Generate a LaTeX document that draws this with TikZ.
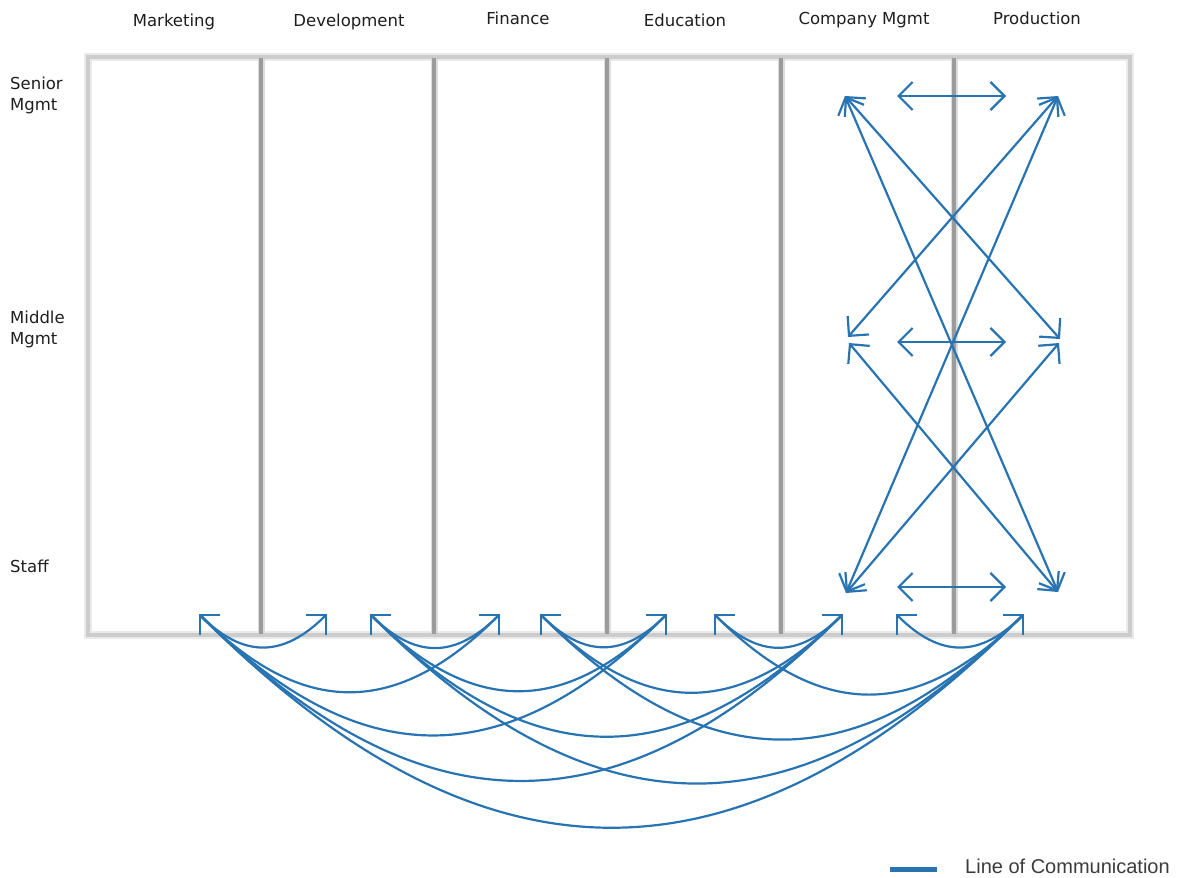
\documentclass[tikz,border=0pt]{standalone}
\usepackage{fontspec}
\setmainfont{DejaVu Sans}
\newfontfamily\legendfont{Liberation Sans}
\usetikzlibrary{arrows.meta}
\definecolor{commblue}{RGB}{40,116,178}
\definecolor{framegray}{RGB}{204,204,204}
\definecolor{framesoft}{RGB}{234,234,234}
\definecolor{divgray}{RGB}{155,155,155}
\definecolor{divsoft}{RGB}{220,220,220}
\definecolor{labelgray}{RGB}{30,30,30}
\definecolor{legendgray}{RGB}{60,60,60}
\begin{document}
\begin{tikzpicture}[x=1pt,y=-1pt,
  >={Straight Barb[length=14pt,width=28pt]},
  colhead/.style={font=\fontsize{16.5}{20}\selectfont, text=labelgray, inner sep=0pt, anchor=base},
  rowhead/.style={font=\fontsize{16.5}{20.5}\selectfont, text=labelgray, inner sep=0pt, align=left, anchor=north west},
  comm/.style={draw=commblue, line width=2.2pt, <->},
  stafflink/.style={comm, out=-45, in=-135, looseness=1.25},
  framehalo/.style={draw=framesoft, line width=8pt},
  frameline/.style={draw=framegray, line width=4.5pt},
  divhalo/.style={draw=divsoft, line width=7pt},
  divline/.style={draw=divgray, line width=3.5pt},
  legendbar/.style={draw=commblue, line width=5pt}]
\useasboundingbox (0,0) rectangle (1184,878);

% grid of departments
\draw[framehalo] (88,57) rectangle (1130,635);
\foreach \x in {261,434,607,781,954}{\draw[divhalo] (\x,57) -- (\x,635);}
\draw[frameline] (88,57) rectangle (1130,635);
\foreach \x in {261,434,607,781,954}{\draw[divline] (\x,58) -- (\x,634);}

% column headings
\node[colhead] (mkt) at (174,26) {Marketing};
\node[colhead] (dev) at (349,26) {Development};
\node[colhead] (fin) at (518,24) {Finance};
\node[colhead] (edu) at (685,26) {Education};
\node[colhead] (cmg) at (864,24) {Company Mgmt};
\node[colhead] (prd) at (1037,24) {Production};

% row headings
\node[rowhead] (senior) at (10,77) {Senior\\Mgmt};
\node[rowhead] (middle) at (10,311) {Middle\\Mgmt};
\node[rowhead] (staff) at (10,560) {Staff};

% end points inside Company Mgmt / Production
\coordinate (TL) at (845,96);
\coordinate (TR) at (1058,96);
\coordinate (MLa) at (848,337);
\coordinate (MLb) at (849,343);
\coordinate (MRa) at (1060,339);
\coordinate (MRb) at (1059,343);
\coordinate (BL) at (846,593);
\coordinate (BR) at (1058,592);
\coordinate (SenA) at (897,96);
\coordinate (SenB) at (1006,96);
\coordinate (MidA) at (897,342);
\coordinate (MidB) at (1006,342);
\coordinate (StfA) at (897,587);
\coordinate (StfB) at (1006,587);

\draw[comm] (SenA) -- (SenB);
\draw[comm] (MidA) -- (MidB);
\draw[comm] (StfA) -- (StfB);
\draw[comm] (TL) -- (MRa);
\draw[comm] (TL) -- (BR);
\draw[comm] (TR) -- (MLa);
\draw[comm] (TR) -- (BL);
\draw[comm] (MLb) -- (BR);
\draw[comm] (MRb) -- (BL);

% staff end points along the bottom edge
\coordinate (L1) at (199,614);
\coordinate (L2) at (370,614);
\coordinate (L3) at (540,614);
\coordinate (L4) at (714,614);
\coordinate (L5) at (896,614);
\coordinate (R1) at (327,614);
\coordinate (R2) at (500,614);
\coordinate (R3) at (667,614);
\coordinate (R4) at (843,614);
\coordinate (R5) at (1024,614);

\foreach \i in {1,...,5}{
  \foreach \j in {\i,...,5}{
    \draw[stafflink] (L\i) to (R\j);
  }
}

% legend
\coordinate (lgA) at (890,869);
\coordinate (lgB) at (937,869);
\draw[legendbar] (lgA) -- (lgB);
\node[font=\legendfont\fontsize{20}{24}\selectfont, text=legendgray, inner sep=0pt, anchor=base west] (legend) at (965,873) {Line of Communication};
\end{tikzpicture}
\end{document}
